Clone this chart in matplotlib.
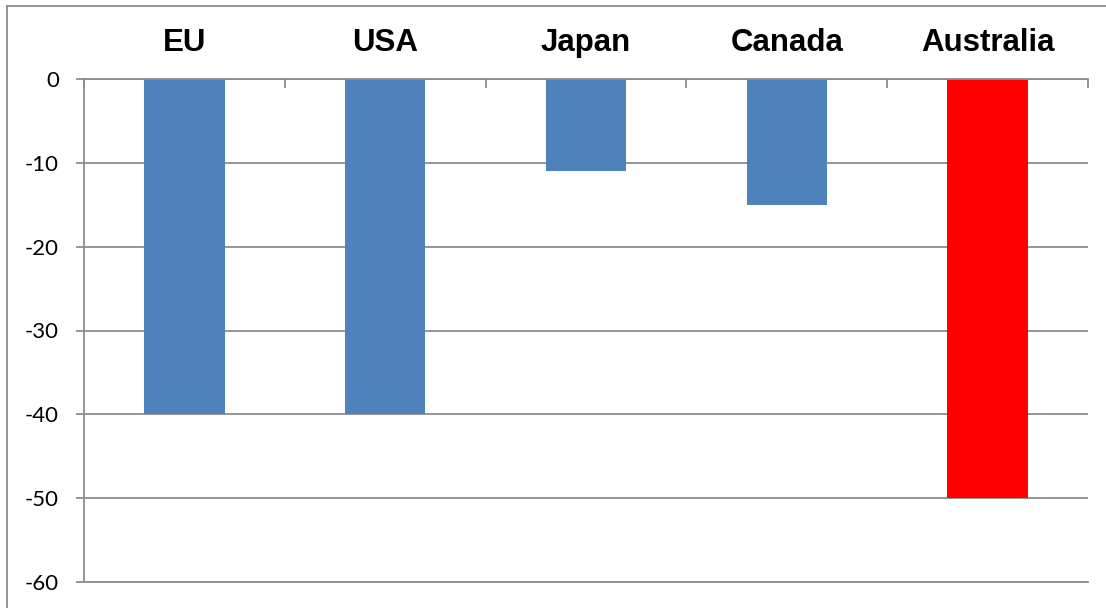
import matplotlib.pyplot as plt
from matplotlib.lines import Line2D
import numpy as np

countries = ['EU', 'USA', 'Japan', 'Canada', 'Australia']
values = [-40, -40, -11, -15, -50]
bar_colors = ['#4F81BD', '#4F81BD', '#4F81BD', '#4F81BD', '#FF0000']
y_ticks = [0, -10, -20, -30, -40, -50, -60]

grid_color = '#8C8C8C'

fig = plt.figure(figsize=(11.06, 6.08), dpi=100)
ax = fig.add_axes([84 / 1106, 1 - 582 / 608, (1088 - 84) / 1106, (582 - 79) / 608])

x = np.arange(len(countries))
ax.bar(x, values, width=0.4, color=bar_colors, zorder=3)

ax.set_xlim(-0.5, len(countries) - 0.5)
ax.set_ylim(-60, 0)

# category labels on top
ax.xaxis.tick_top()
ax.set_xticks(x)
ax.set_xticklabels(countries, fontsize=22.5, fontweight='bold', family='Liberation Sans')
ax.tick_params(axis='x', which='major', length=0, pad=15)
ax.set_xticks(np.arange(-0.5, len(countries)), minor=True)
ax.tick_params(axis='x', which='minor', direction='in', length=6.5, width=1.3,
               color=grid_color, top=True, bottom=False)

ax.set_yticks(y_ticks)
ax.set_yticklabels([str(v) for v in y_ticks], fontsize=16, family='Lato')
ax.tick_params(axis='y', length=6, width=1.3, color=grid_color, pad=12)

ax.grid(axis='y', color=grid_color, linewidth=1.3, zorder=0)
ax.set_axisbelow(True)

ax.spines['right'].set_visible(False)
for side in ['left', 'top', 'bottom']:
    ax.spines[side].set_color(grid_color)
    ax.spines[side].set_linewidth(1.3)
    ax.spines[side].set_zorder(4)

# outer chart border (left and top edges visible)
fig.add_artist(Line2D([7 / 1106, 7 / 1106], [0, 1 - 6 / 608], transform=fig.transFigure,
                      color=grid_color, linewidth=1.3))
fig.add_artist(Line2D([7 / 1106, 1], [1 - 6 / 608, 1 - 6 / 608], transform=fig.transFigure,
                      color=grid_color, linewidth=1.3))

fig.savefig('out.png', dpi=100)
